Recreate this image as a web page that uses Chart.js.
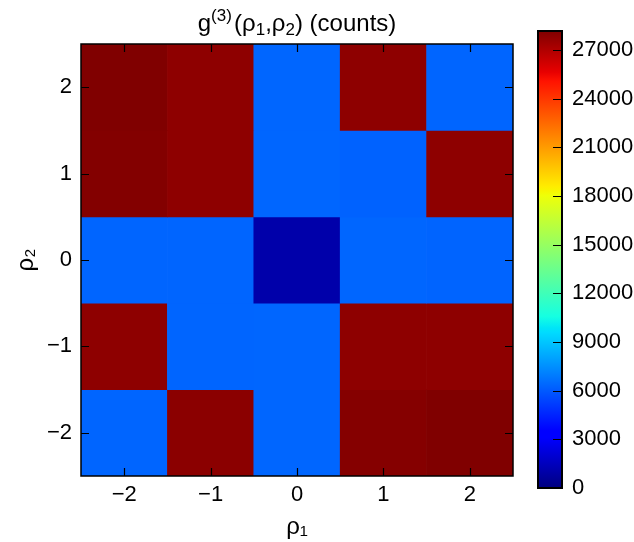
<!DOCTYPE html>
<html>
<head>
<meta charset="utf-8">
<script src="https://cdn.jsdelivr.net/npm/chart.js@4/dist/chart.umd.min.js"></script>
<style>
  html, body { margin: 0; padding: 0; background: #fff; }
  #wrap { position: relative; width: 634px; height: 542px; }
  #main { position: absolute; left: 0; top: 0; }
  #cbar { position: absolute; left: 530px; top: 0; }
</style>
</head>
<body>
<div id="wrap">
  <canvas id="main" width="634" height="542"></canvas>
  <canvas id="cbar" width="104" height="542"></canvas>
</div>
<script>
// Axis positions
const rho1 = [-2, -1, 0, 1, 2];
const rho2 = [2, 1, 0, -1, -2];

// g(3) counts, one array per rho2 row (left to right along rho1)
const countsRho2_p2 = [28170, 27820, 6330, 27820, 6300];
const countsRho2_p1 = [28080, 27820, 6330, 6220, 27820];
const countsRho2_0  = [6300, 6300, 1040, 6330, 6280];
const countsRho2_m1 = [27820, 6300, 6330, 27820, 27820];
const countsRho2_m2 = [6300, 27880, 6330, 28030, 28150];

// Colour bar tick values
const cbarTicks = [0, 3000, 6000, 9000, 12000, 15000, 18000, 21000, 24000, 27000];

const countRows = [countsRho2_p2, countsRho2_p1, countsRho2_0, countsRho2_m1, countsRho2_m2];
const VMIN = 0;
const VMAX = Math.max(...countRows.flat());

const FONT = 'Liberation Sans, Arial, sans-serif';
const TICK_SIZE = 22;
const fmt = v => (v < 0 ? '\u2212' + Math.abs(v) : String(v));

// matplotlib "jet" segment data
const JET = {
  r: [[0, 0], [0.35, 0], [0.66, 1], [0.89, 1], [1, 0.5]],
  g: [[0, 0], [0.125, 0], [0.375, 1], [0.64, 1], [0.91, 0], [1, 0]],
  b: [[0, 0.5], [0.11, 1], [0.34, 1], [0.65, 0], [1, 0]]
};
function seg(pts, t) {
  for (let i = 1; i < pts.length; i++) {
    if (t <= pts[i][0]) {
      const [x0, y0] = pts[i - 1], [x1, y1] = pts[i];
      return y0 + (y1 - y0) * (t - x0) / (x1 - x0);
    }
  }
  return pts[pts.length - 1][1];
}
function jet(t) {
  t = Math.min(1, Math.max(0, t));
  const c = k => Math.round(seg(JET[k], t) * 255);
  return `rgb(${c('r')},${c('g')},${c('b')})`;
}
const colorOf = v => jet((v - VMIN) / (VMAX - VMIN));

// Frame and inward tick marks around a chart area
function frameAndTicks(chart, opts) {
  const { ctx, chartArea: a } = chart;
  ctx.save();
  ctx.strokeStyle = '#000';
  ctx.lineWidth = opts.tickWidth;
  ctx.beginPath();
  if (opts.x) {
    const xs = chart.scales.x;
    xs.ticks.forEach((t, i) => {
      const px = Math.round(xs.getPixelForTick(i)) + 0.5;
      ctx.moveTo(px, a.bottom); ctx.lineTo(px, a.bottom - opts.len);
      ctx.moveTo(px, a.top); ctx.lineTo(px, a.top + opts.len);
    });
  }
  const ys = chart.scales.y;
  ys.ticks.forEach((t, i) => {
    const py = Math.round(ys.getPixelForTick(i)) + 0.5;
    if (opts.left) { ctx.moveTo(a.left, py); ctx.lineTo(a.left + opts.len, py); }
    ctx.moveTo(a.right, py); ctx.lineTo(a.right - opts.len, py);
  });
  ctx.stroke();
  ctx.lineWidth = opts.frameWidth;
  ctx.strokeRect(a.left, a.top, a.right - a.left, a.bottom - a.top);
  ctx.restore();
}

// Title with superscript / subscripts, centred over the plot area
const titleRuns = [
  { t: 'g', k: 'main' },
  { t: '(3)', k: 'sup' },
  { t: ' ', k: 'thin' },
  { t: '(\u03C1', k: 'main' },
  { t: '1', k: 'sub' },
  { t: ',\u03C1', k: 'main' },
  { t: '2', k: 'sub' },
  { t: ') (counts)', k: 'main' }
];
const runStyle = {
  main: { size: 24, dy: 0 },
  sup:  { size: 17, dy: -10 },
  sub:  { size: 17, dy: 4 },
  thin: { size: 8, dy: 0 }
};
const richTitle = {
  id: 'richTitle',
  afterDraw(chart) {
    const { ctx, chartArea: a } = chart;
    ctx.save();
    ctx.fillStyle = '#000';
    ctx.textBaseline = 'alphabetic';
    ctx.textAlign = 'left';
    const widths = titleRuns.map(r => {
      ctx.font = `${runStyle[r.k].size}px ${FONT}`;
      return ctx.measureText(r.t).width;
    });
    const total = widths.reduce((s, w) => s + w, 0);
    let x = (a.left + a.right) / 2 - total / 2;
    const base = a.top - 13;
    titleRuns.forEach((r, i) => {
      ctx.font = `${runStyle[r.k].size}px ${FONT}`;
      ctx.fillText(r.t, x, base + runStyle[r.k].dy);
      x += widths[i];
    });
    ctx.restore();
  }
};

// Heat map: one floating-bar dataset per rho2 row, bars overlap (grouped: false)
const datasets = rho2.map((r, k) => ({
  data: rho1.map(() => [r - 0.5, r + 0.5]),
  backgroundColor: countRows[k].map(colorOf),
  borderWidth: 0,
  grouped: false,
  barPercentage: 1,
  categoryPercentage: 1
}));

new Chart(document.getElementById('main'), {
  type: 'bar',
  data: { labels: rho1.map(fmt), datasets },
  options: {
    responsive: false,
    devicePixelRatio: 1,
    animation: false,
    layout: { padding: { left: 0, right: 121, top: 44, bottom: 0 } },
    plugins: {
      legend: { display: false },
      tooltip: { enabled: false },
      title: { display: false }
    },
    scales: {
      x: {
        type: 'category',
        offset: true,
        grid: { display: false, drawTicks: false },
        border: { display: false },
        ticks: { color: '#000', font: { family: FONT, size: TICK_SIZE }, padding: 6 },
        title: {
          display: true, text: '\u03C1\u2081', color: '#000',
          font: { family: FONT, size: 24 }, padding: { top: 0, bottom: 0 }
        },
        afterFit: s => { s.height = 66; }
      },
      y: {
        type: 'linear',
        min: -2.5, max: 2.5,
        afterBuildTicks: s => { s.ticks = rho2.map(v => ({ value: v })); },
        grid: { display: false, drawTicks: false },
        border: { display: false },
        ticks: { color: '#000', font: { family: FONT, size: TICK_SIZE }, padding: 9, callback: v => fmt(v) },
        title: {
          display: true, text: '\u03C1\u2082', color: '#000',
          font: { family: FONT, size: 24 }, padding: { top: 12, bottom: 0 }
        },
        afterFit: s => { s.width = 81; }
      }
    }
  },
  plugins: [{
    id: 'frame',
    afterDatasetsDraw: c => frameAndTicks(c, { x: true, left: true, len: 8, tickWidth: 1.2, frameWidth: 1.5 })
  }, richTitle]
});

// Colour bar: a single floating bar from VMIN to VMAX filled with the jet ramp
const JET_STOPS = [0, 0.11, 0.125, 0.34, 0.35, 0.375, 0.64, 0.65, 0.66, 0.89, 0.91, 1];
new Chart(document.getElementById('cbar'), {
  type: 'bar',
  data: {
    labels: [''],
    datasets: [{
      data: [[VMIN, VMAX]],
      borderWidth: 0,
      barPercentage: 1,
      categoryPercentage: 1,
      backgroundColor: ctx => {
        const ch = ctx.chart;
        if (!ch.chartArea || !ch.scales.y) return '#000080';
        const ys = ch.scales.y;
        const g = ch.ctx.createLinearGradient(0, ys.getPixelForValue(VMIN), 0, ys.getPixelForValue(VMAX));
        JET_STOPS.forEach(s => g.addColorStop(s, jet(s)));
        return g;
      }
    }]
  },
  options: {
    responsive: false,
    devicePixelRatio: 1,
    animation: false,
    layout: { padding: { left: 8, right: 0, top: 31, bottom: 54 } },
    plugins: { legend: { display: false }, tooltip: { enabled: false } },
    scales: {
      x: { display: false },
      y: {
        position: 'right',
        min: VMIN, max: VMAX,
        afterBuildTicks: s => { s.ticks = cbarTicks.map(v => ({ value: v })); },
        grid: { display: false, drawTicks: false },
        border: { display: false },
        ticks: { color: '#000', font: { family: FONT, size: TICK_SIZE }, padding: 10, callback: v => String(v) },
        afterFit: s => { s.width = 72; }
      }
    }
  },
  plugins: [{
    id: 'frame',
    afterDatasetsDraw: c => frameAndTicks(c, { x: false, left: false, len: 9, tickWidth: 1.2, frameWidth: 2 })
  }]
});
</script>
</body>
</html>
